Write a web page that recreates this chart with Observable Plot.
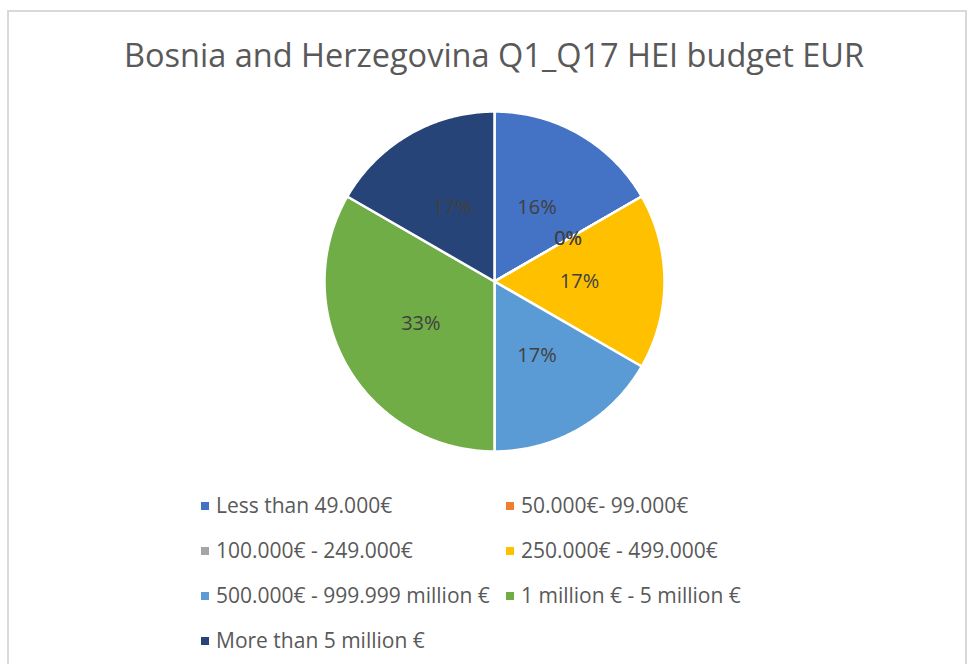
<!DOCTYPE html>
<html>
<head>
<meta charset="utf-8">
<script src="https://cdn.jsdelivr.net/npm/d3@7"></script>
<script src="https://cdn.jsdelivr.net/npm/@observablehq/plot@0.6"></script>
<style>
  html, body { margin: 0; padding: 0; background: #fff; }
  #frame { position: relative; width: 969px; height: 664px; overflow: hidden; font-family: "Open Sans", "Noto Sans", sans-serif; }
  #border { position: absolute; left: 7px; top: 10px; width: 960px; height: 700px; border: 2px solid #d9d9d9; box-sizing: border-box; }
  #title { position: absolute; left: 0; width: 988px; top: 33px; text-align: center; font-size: 32.5px; line-height: 44px; color: #595959; white-space: nowrap; }
  #pie { position: absolute; left: 314px; top: 101px; }
  .lg { position: absolute; font-size: 21px; color: #595959; white-space: nowrap; line-height: 24px; }
  .sw { display: inline-block; width: 8px; height: 8px; margin-right: 7px; vertical-align: 3px; }
</style>
</head>
<body>
<div id="frame">
  <div id="border"></div>
  <div id="title"></div>
  <div id="pie"></div>
  <div id="legend"></div>
</div>
<script>
const title = "Bosnia and Herzegovina Q1_Q17 HEI budget EUR";
const categories = [
  "Less than 49.000€",
  "50.000€- 99.000€",
  "100.000€ - 249.000€",
  "250.000€ - 499.000€",
  "500.000€ - 999.999 million €",
  "1 million € - 5 million €",
  "More than 5 million €"
];
const counts = [1, 0, 0, 1, 1, 2, 1];
const percentLabels = ["16%", "0%", "0%", "17%", "17%", "33%", "17%"];
const colors = ["#4472C4", "#ED7D31", "#A5A5A5", "#FFC000", "#5B9BD5", "#70AD47", "#264478"];

document.getElementById("title").textContent = title;

const arcs = d3.pie().sort(null).startAngle(0).endAngle(2 * Math.PI)(counts);

// polygon points for each slice, from the pie layout
const polys = [];
arcs.forEach((a, i) => {
  const cat = categories[i];
  polys.push({cat, x: 0, y: 0});
  const n = Math.max(2, Math.ceil((a.endAngle - a.startAngle) / 0.01));
  for (let k = 0; k <= n; k++) {
    const t = a.startAngle + (a.endAngle - a.startAngle) * k / n;
    polys.push({cat, x: Math.sin(t), y: Math.cos(t)});
  }
});

const labels = arcs.map((a, i) => {
  const m = (a.startAngle + a.endAngle) / 2;
  return {label: percentLabels[i], x: 0.5 * Math.sin(m), y: 0.5 * Math.cos(m)};
});

const chart = Plot.plot({
  width: 360,
  height: 360,
  margin: 10,
  x: {domain: [-1, 1], axis: null},
  y: {domain: [-1, 1], axis: null},
  color: {domain: categories, range: colors},
  style: {background: "transparent", overflow: "visible"},
  marks: [
    Plot.line(polys, {x: "x", y: "y", z: "cat", fill: "cat", stroke: "white", strokeWidth: 2.5, curve: "linear-closed"}),
    Plot.text(labels, {x: "x", y: "y", text: "label", fill: "#404040", fontSize: 20, fontFamily: "Open Sans, Noto Sans, sans-serif"})
  ]
});
document.getElementById("pie").appendChild(chart);

// legend: two columns, rows top to bottom
const legend = document.getElementById("legend");
const colX = [201, 506];
const rowY = [493, 538, 583, 628];
categories.forEach((c, i) => {
  const d = document.createElement("div");
  d.className = "lg";
  d.style.left = colX[i % 2] + "px";
  d.style.top = rowY[Math.floor(i / 2)] + "px";
  const s = document.createElement("span");
  s.className = "sw";
  s.style.background = colors[i];
  d.appendChild(s);
  d.appendChild(document.createTextNode(c));
  legend.appendChild(d);
});
</script>
</body>
</html>
